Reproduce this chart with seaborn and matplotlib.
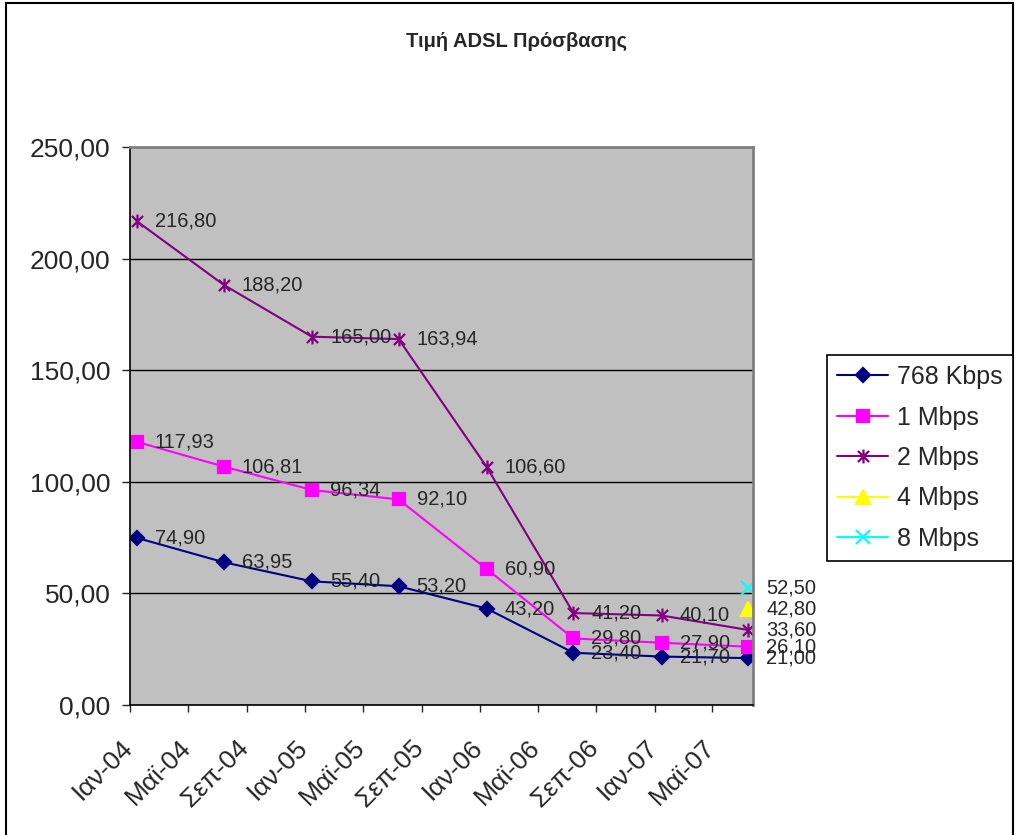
import numpy as np
import pandas as pd
import matplotlib.pyplot as plt
import matplotlib.dates as mdates
import matplotlib.transforms as mtransforms
from matplotlib.path import Path
from matplotlib.patches import Rectangle
from matplotlib.ticker import FuncFormatter, MultipleLocator
import seaborn as sns

# data (semi-annual price points)
dates = pd.to_datetime(["2004-01-15", "2004-07-15", "2005-01-15", "2005-07-15",
                        "2006-01-15", "2006-07-15", "2007-01-15", "2007-07-15"])
kbps_768 = [74.90, 63.95, 55.40, 53.20, 43.20, 23.40, 21.70, 21.00]
mbps_1 = [117.93, 106.81, 96.34, 92.10, 60.90, 29.80, 27.90, 26.10]
mbps_2 = [216.80, 188.20, 165.00, 163.94, 106.60, 41.20, 40.10, 33.60]
mbps_4 = [np.nan] * 7 + [42.80]
mbps_8 = [np.nan] * 7 + [52.50]
speeds = ["768 Kbps", "1 Mbps", "2 Mbps", "4 Mbps", "8 Mbps"]
greek_months = {1: "Ιαν", 5: "Μαϊ", 9: "Σεπ"}

df = pd.DataFrame({
    "date": list(dates) * 5,
    "speed": np.repeat(speeds, len(dates)),
    "price": kbps_768 + mbps_1 + mbps_2 + mbps_4 + mbps_8,
}).dropna()

sns.set_style("white")
plt.rcParams["font.family"] = ["Liberation Sans", "DejaVu Sans"]

# excel style asterisk: x with a vertical bar
asterisk = Path([(-1, -1), (1, 1), (-1, 1), (1, -1), (0, -1.25), (0, 1.25)],
                [Path.MOVETO, Path.LINETO] * 3)

colors = ["#000080", "#FF00FF", "#800080", "#FFFF00", "#00FFFF"]
markers = ["D", "s", asterisk, "^", "x"]
msizes = [7.5, 8, 10, 9.5, 9.5]

fig, ax = plt.subplots(figsize=(10.16, 8.35), dpi=100)
ax.set_position([130 / 1016, 130 / 835, 623 / 1016, 558 / 835])
ax.set_facecolor("#C0C0C0")

for name, col, mk, ms in zip(speeds, colors, markers, msizes):
    sub = df[df["speed"] == name]
    sns.lineplot(data=sub, x="date", y="price", ax=ax, color=col, marker=mk,
                 markersize=ms, mec=col, mfc=col, mew=1.6, lw=1.5,
                 label=name, legend=False, errorbar=None)
    for d, v in zip(sub["date"], sub["price"]):
        ax.annotate(f"{v:.2f}".replace(".", ","), (d, v), xytext=(13, 0),
                    textcoords="offset points", va="center", ha="left",
                    fontsize=14.5, annotation_clip=False)

ax.set_xlim(pd.Timestamp("2004-01-01"), pd.Timestamp("2007-07-25"))
ax.set_ylim(0, 250)
ax.yaxis.set_major_locator(MultipleLocator(50))
ax.yaxis.set_major_formatter(FuncFormatter(lambda v, p: f"{v:.2f}".replace(".", ",")))
ax.xaxis.set_major_locator(mdates.MonthLocator(bymonth=[1, 5, 9]))
ax.xaxis.set_major_formatter(FuncFormatter(
    lambda v, p: f"{greek_months.get(mdates.num2date(v).month, '')}-{mdates.num2date(v):%y}"))

ax.set_xlabel("")
ax.set_ylabel("")
ax.yaxis.grid(True, color="black", lw=1)
ax.xaxis.grid(False)
ax.set_axisbelow(True)

ax.tick_params(axis="y", direction="out", length=6, width=1, pad=8, labelsize=19, left=True)
ax.tick_params(axis="x", direction="out", length=5, width=1, pad=17, labelsize=19, bottom=True)
shift = mtransforms.ScaledTranslation(-7 / 72, 0, fig.dpi_scale_trans)
for lab in ax.get_xticklabels():
    lab.set_rotation(45)
    lab.set_ha("right")
    lab.set_va("top")
    lab.set_rotation_mode("anchor")
    lab.set_transform(lab.get_transform() + shift)

for side in ["left", "bottom"]:
    ax.spines[side].set_color("black")
    ax.spines[side].set_linewidth(1.2)
for side in ["top", "right"]:
    ax.spines[side].set_color("#808080")
    ax.spines[side].set_linewidth(2)

fig.text(517 / 1016, 1 - 41 / 835, "Τιμή ADSL Πρόσβασης", ha="center", va="center",
         fontsize=14.5, fontweight="bold")

handles, labels = ax.get_legend_handles_labels()
leg = fig.legend(handles, labels, loc="upper left", bbox_to_anchor=(827 / 1016, 1 - 355 / 835),
                 fontsize=18, frameon=True, fancybox=False, edgecolor="black", framealpha=1,
                 borderpad=0.4, labelspacing=0.66, handlelength=2.05, handletextpad=0.35,
                 borderaxespad=0)
leg.get_frame().set_linewidth(1.2)

fig.add_artist(Rectangle((6 / 1016, -0.01), 1007 / 1016, 1.01 - 3 / 835,
                         transform=fig.transFigure, fill=False, edgecolor="black", lw=1.5))

plt.savefig("out.png", dpi=100)
